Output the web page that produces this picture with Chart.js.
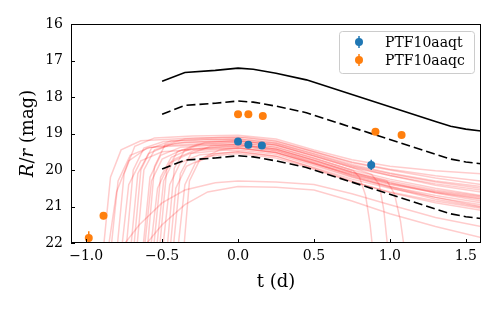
<!DOCTYPE html>
<html>
<head>
<meta charset="utf-8">
<script src="https://cdn.jsdelivr.net/npm/chart.js@4.4.1/dist/chart.umd.min.js"></script>
<style>
  html, body { margin: 0; padding: 0; background: #fff; }
  #wrap { width: 499px; height: 312px; }
</style>
</head>
<body>
<div id="wrap"><canvas id="lc" width="499" height="312"></canvas></div>
<script>
// tick labels
const xTicks = [-1.0, -0.5, 0.0, 0.5, 1.0, 1.5];
const yTicks = [16, 17, 18, 19, 20, 21, 22];

// observed photometry
const aaqtT = [0.0, 0.068, 0.157, 0.877];
const aaqtMag = [19.22, 19.31, 19.33, 19.86];
const aaqtErr = [0.04, 0.04, 0.04, 0.14];

const aaqcT = [-0.983, -0.886, 0.0, 0.068, 0.163, 0.905, 1.077];
const aaqcMag = [21.86, 21.25, 18.47, 18.47, 18.52, 18.95, 19.04];
const aaqcErr = [0.18, 0.1, 0.04, 0.04, 0.04, 0.04, 0.04];

// black reference curves
const refT = [-0.5, -0.35, -0.15, 0.0, 0.1, 0.25, 0.45, 1.3, 1.4, 1.5, 1.6];
const refSolid = [17.57, 17.33, 17.27, 17.21, 17.24, 17.35, 17.53, 18.67, 18.80, 18.88, 18.93];
const refDashHi = [18.47, 18.23, 18.17, 18.11, 18.14, 18.25, 18.43, 19.57, 19.70, 19.78, 19.83];
const refDashLo = [19.97, 19.73, 19.67, 19.61, 19.64, 19.75, 19.93, 21.07, 21.20, 21.28, 21.33];

// model light curves [t, mag]
const model01 = [[-0.89,22.3],[-0.84,20.2],[-0.77,19.45],[-0.64,19.2],[-0.3,19.12],[0,19.1],[0.25,19.22],[0.5,19.5],[0.75,19.8],[1.0,20.0],[1.3,20.22],[1.6,20.4]];
const model02 = [[-0.80,22.3],[-0.75,20.1],[-0.68,19.35],[-0.55,19.12],[-0.3,19.07],[0,19.05],[0.25,19.15],[0.5,19.45],[0.75,19.72],[1.0,19.9],[1.3,20.02],[1.6,20.1]];
const model03 = [[-0.74,22.3],[-0.69,20.0],[-0.62,19.4],[-0.49,19.22],[-0.2,19.17],[0,19.15],[0.25,19.27],[0.5,19.57],[0.75,19.88],[1.0,20.1],[1.3,20.33],[1.6,20.5]];
const model04 = [[-0.71,22.3],[-0.66,20.1],[-0.59,19.55],[-0.46,19.33],[-0.2,19.27],[0,19.25],[0.25,19.38],[0.5,19.68],[0.75,20.0],[1.0,20.25],[1.3,20.5],[1.6,20.7]];
const model05 = [[-0.67,22.3],[-0.62,20.0],[-0.55,19.45],[-0.42,19.27],[-0.2,19.22],[0,19.2],[0.25,19.32],[0.5,19.62],[0.75,19.93],[1.0,20.15],[1.3,20.38],[1.6,20.55]];
const model06 = [[-0.63,22.3],[-0.58,20.2],[-0.51,19.6],[-0.38,19.38],[-0.15,19.32],[0,19.3],[0.25,19.43],[0.5,19.74],[0.75,20.07],[1.0,20.35],[1.3,20.63],[1.6,20.85]];
const model07 = [[-0.60,22.3],[-0.55,19.9],[-0.48,19.3],[-0.35,19.15],[-0.1,19.1],[0.05,19.1],[0.25,19.2],[0.5,19.5],[0.75,19.78],[1.0,19.98],[1.3,20.16],[1.6,20.3]];
const model08 = [[-0.56,22.3],[-0.51,20.2],[-0.44,19.65],[-0.31,19.42],[-0.1,19.36],[0.05,19.35],[0.25,19.47],[0.5,19.8],[0.75,20.15],[1.0,20.45],[1.3,20.75],[1.6,21.0]];
const model09 = [[-0.52,22.3],[-0.47,20.0],[-0.4,19.5],[-0.27,19.3],[0,19.25],[0.25,19.37],[0.5,19.67],[0.76,20.02],[0.8,20.2],[0.84,20.7],[0.87,21.5],[0.89,22.3]];
const model10 = [[-0.47,22.3],[-0.42,19.95],[-0.35,19.45],[-0.22,19.25],[0,19.2],[0.25,19.32],[0.5,19.62],[0.75,19.93],[0.88,20.12],[0.93,20.4],[0.96,21.1],[0.99,22.3]];
const model11 = [[-0.43,22.3],[-0.38,20.1],[-0.31,19.55],[-0.18,19.35],[0,19.3],[0.25,19.43],[0.5,19.74],[0.75,20.07],[0.98,20.3],[1.03,20.65],[1.07,21.4],[1.1,22.3]];
const model12 = [[-0.40,22.3],[-0.35,20.4],[-0.28,19.8],[-0.15,19.56],[0,19.5],[0.25,19.62],[0.5,19.95],[0.75,20.3],[1.0,20.62],[1.3,20.9],[1.6,21.1]];
const model13 = [[-0.86,22.3],[-0.8,20.6],[-0.72,19.75],[-0.6,19.4],[-0.35,19.24],[0,19.2],[0.25,19.3],[0.5,19.6],[0.75,19.9],[1.0,20.15],[1.3,20.42],[1.6,20.6]];
const model14 = [[-0.77,22.3],[-0.72,20.4],[-0.64,19.75],[-0.5,19.5],[-0.2,19.42],[0,19.4],[0.25,19.52],[0.5,19.82],[0.75,20.12],[1.0,20.35],[1.3,20.58],[1.6,20.75]];
const model15 = [[-0.58,22.3],[-0.53,20.5],[-0.45,19.8],[-0.32,19.55],[-0.1,19.46],[0,19.45],[0.25,19.57],[0.5,19.88],[0.75,20.2],[1.0,20.45],[1.3,20.7],[1.6,20.9]];
const model16 = [[-0.50,22.3],[-0.45,20.4],[-0.38,19.8],[-0.25,19.58],[0,19.5],[0.25,19.62],[0.5,19.93],[0.75,20.25],[1.0,20.5],[1.3,20.75],[1.6,20.95]];
const model17 = [[-0.45,22.3],[-0.41,20.5],[-0.34,19.9],[-0.2,19.62],[0,19.55],[0.25,19.67],[0.5,19.98],[0.75,20.32],[1.0,20.6],[1.3,20.85],[1.6,21.05]];
const model18 = [[-0.80,22.3],[-0.65,21.5],[-0.5,20.9],[-0.35,20.55],[-0.15,20.35],[0,20.3],[0.25,20.33],[0.5,20.4],[0.75,20.65],[1.0,20.95],[1.3,21.3],[1.6,21.55]];
const model19 = [[-0.66,22.3],[-0.5,21.5],[-0.35,20.95],[-0.2,20.6],[0,20.45],[0.25,20.47],[0.5,20.55],[0.75,20.85],[1.0,21.2],[1.3,21.55],[1.6,21.85]];
const model20 = [[-0.36,22.3],[-0.32,20.3],[-0.25,19.7],[-0.12,19.45],[0,19.4],[0.25,19.52],[0.5,19.82],[0.75,20.14],[1.0,20.4],[1.3,20.62],[1.6,20.8]];
const model21 = [[-0.84,22.3],[-0.79,20.3],[-0.71,19.6],[-0.58,19.38],[-0.3,19.32],[0,19.3],[0.25,19.42],[0.5,19.72],[0.75,20.05],[1.0,20.3],[1.3,20.55],[1.6,20.72]];
const model22 = [[-0.69,22.3],[-0.64,20.0],[-0.57,19.4],[-0.44,19.2],[-0.2,19.16],[0,19.15],[0.25,19.26],[0.5,19.55],[0.75,19.85],[1.0,20.08],[1.3,20.3],[1.6,20.45]];
const model23 = [[-0.54,22.3],[-0.49,20.3],[-0.42,19.7],[-0.29,19.47],[0,19.4],[0.25,19.52],[0.5,19.84],[0.75,20.18],[1.0,20.48],[1.3,20.8],[1.6,21.02]];
const model24 = [[-0.62,22.3],[-0.57,20.3],[-0.5,19.7],[-0.37,19.45],[-0.1,19.37],[0,19.35],[0.25,19.47],[0.5,19.78],[0.75,20.1],[1.0,20.38],[1.3,20.6],[1.6,20.78]];

const models = [model01, model02, model03, model04, model05, model06, model07, model08, model09, model10,
                model11, model12, model13, model14, model15, model16, model17, model18, model19, model20,
                model21, model22, model23, model24];

const SERIF = '"DejaVu Serif", serif';
const blue = '#1f77b4';
const orange = '#ff7f0e';

function toXY(ts, ms) {
    return ts.map((t, i) => ({ x: t, y: ms[i] }));
}

function fmtX(v) {
    return v.toFixed(1).replace('-', '\u2212');
}

const datasets = [
    { label: 'PTF10aaqt', data: toXY(aaqtT, aaqtMag), errs: aaqtErr, backgroundColor: blue, borderColor: blue,
      pointRadius: 4, pointHoverRadius: 4, borderWidth: 0, showLine: false },
    { label: 'PTF10aaqc', data: toXY(aaqcT, aaqcMag), errs: aaqcErr, backgroundColor: orange, borderColor: orange,
      pointRadius: 4, pointHoverRadius: 4, borderWidth: 0, showLine: false },
    { label: 'solid', data: toXY(refT, refSolid), borderColor: '#000', borderWidth: 1.6, pointRadius: 0,
      showLine: true, tension: 0 },
    { label: 'dashHi', data: toXY(refT, refDashHi), borderColor: '#000', borderWidth: 1.6, borderDash: [9, 4],
      pointRadius: 0, showLine: true, tension: 0 },
    { label: 'dashLo', data: toXY(refT, refDashLo), borderColor: '#000', borderWidth: 1.6, borderDash: [9, 4],
      pointRadius: 0, showLine: true, tension: 0 }
];

models.forEach((m, i) => {
    datasets.push({
        label: 'model' + (i + 1),
        data: m.map(p => ({ x: p[0], y: p[1] })),
        borderColor: 'rgba(255, 0, 0, 0.2)',
        borderWidth: 1.5,
        pointRadius: 0,
        showLine: true,
        tension: 0
    });
});

// error bars drawn just before each point dataset
const errorBars = {
    id: 'errorBars',
    beforeDatasetDraw(chart, args) {
        const ds = chart.data.datasets[args.index];
        if (!ds.errs) return;
        const ctx = chart.ctx;
        const xs = chart.scales.x, ys = chart.scales.y;
        const area = chart.chartArea;
        ctx.save();
        ctx.beginPath();
        ctx.rect(area.left, area.top, area.right - area.left, area.bottom - area.top);
        ctx.clip();
        ctx.strokeStyle = ds.borderColor;
        ctx.lineWidth = 1.5;
        ds.data.forEach((p, i) => {
            const px = xs.getPixelForValue(p.x);
            ctx.beginPath();
            ctx.moveTo(px, ys.getPixelForValue(p.y - ds.errs[i]));
            ctx.lineTo(px, ys.getPixelForValue(p.y + ds.errs[i]));
            ctx.stroke();
        });
        ctx.restore();
    }
};

// frame, inward ticks, axis titles and legend
const decorations = {
    id: 'decorations',
    afterDraw(chart) {
        const ctx = chart.ctx;
        const a = chart.chartArea;
        const xs = chart.scales.x, ys = chart.scales.y;
        ctx.save();
        ctx.strokeStyle = '#000';
        ctx.lineWidth = 1;
        ctx.strokeRect(Math.round(a.left) + 0.5, Math.round(a.top) + 0.5,
                       Math.round(a.right - a.left) - 1, Math.round(a.bottom - a.top) - 1);
        ctx.beginPath();
        xTicks.forEach(v => {
            const px = Math.round(xs.getPixelForValue(v)) + 0.5;
            ctx.moveTo(px, a.bottom);
            ctx.lineTo(px, a.bottom - 4);
        });
        yTicks.forEach(v => {
            const py = Math.round(ys.getPixelForValue(v)) + 0.5;
            ctx.moveTo(a.left, py);
            ctx.lineTo(a.left + 4, py);
        });
        ctx.stroke();

        // x title
        ctx.fillStyle = '#000';
        ctx.font = '18px ' + SERIF;
        ctx.textAlign = 'center';
        ctx.textBaseline = 'middle';
        ctx.fillText('t (d)', (a.left + a.right) / 2, 282);

        // y title with italic R/r
        const parts = [
            { t: 'R', f: 'italic 18px ' + SERIF },
            { t: '/', f: '18px ' + SERIF },
            { t: 'r', f: 'italic 18px ' + SERIF },
            { t: ' (mag)', f: '18px ' + SERIF }
        ];
        let total = 0;
        parts.forEach(p => { ctx.font = p.f; p.w = ctx.measureText(p.t).width; total += p.w; });
        ctx.translate(28, (a.top + a.bottom) / 2);
        ctx.rotate(-Math.PI / 2);
        ctx.textAlign = 'left';
        let cx = -total / 2;
        parts.forEach(p => { ctx.font = p.f; ctx.fillText(p.t, cx, 0); cx += p.w; });
        ctx.setTransform(1, 0, 0, 1, 0, 0);

        // legend box
        const bx = a.right - 142, by = a.top + 7, bw = 135, bh = 42;
        ctx.beginPath();
        ctx.roundRect(bx + 0.5, by + 0.5, bw, bh, 3);
        ctx.fillStyle = 'rgba(255,255,255,0.8)';
        ctx.fill();
        ctx.strokeStyle = '#cccccc';
        ctx.lineWidth = 1;
        ctx.stroke();
        ctx.font = '14px ' + SERIF;
        ctx.textAlign = 'left';
        ctx.textBaseline = 'middle';
        [0, 1].forEach(i => {
            const ds = chart.data.datasets[i];
            const ry = by + 11 + i * 18;
            const mx = bx + 20;
            ctx.strokeStyle = ds.borderColor;
            ctx.lineWidth = 1.5;
            ctx.beginPath();
            ctx.moveTo(mx, ry - 6);
            ctx.lineTo(mx, ry + 6);
            ctx.stroke();
            ctx.fillStyle = ds.backgroundColor;
            ctx.beginPath();
            ctx.arc(mx, ry, 4, 0, Math.PI * 2);
            ctx.fill();
            ctx.fillStyle = '#000';
            ctx.fillText(ds.label, bx + 46, ry + 1);
        });
        ctx.restore();
    }
};

new Chart(document.getElementById('lc'), {
    type: 'scatter',
    data: { datasets },
    options: {
        responsive: false,
        animation: false,
        layout: { padding: { left: 0, right: 18, top: 24, bottom: 0 } },
        plugins: { legend: { display: false }, tooltip: { enabled: false } },
        scales: {
            x: {
                type: 'linear',
                min: -1.1,
                max: 1.6,
                afterBuildTicks: s => { s.ticks = xTicks.map(v => ({ value: v })); },
                afterFit: s => { s.height = 69; },
                ticks: { callback: v => fmtX(v), font: { family: SERIF, size: 14 }, color: '#000', padding: 5, maxRotation: 0 },
                grid: { display: false, drawTicks: false },
                border: { display: false }
            },
            y: {
                type: 'linear',
                min: 16,
                max: 22,
                reverse: true,
                afterBuildTicks: s => { s.ticks = yTicks.map(v => ({ value: v })); },
                afterFit: s => { s.width = 71; },
                ticks: { callback: v => String(v), font: { family: SERIF, size: 14 }, color: '#000', padding: 8 },
                grid: { display: false, drawTicks: false },
                border: { display: false }
            }
        }
    },
    plugins: [errorBars, decorations]
});
</script>
</body>
</html>
